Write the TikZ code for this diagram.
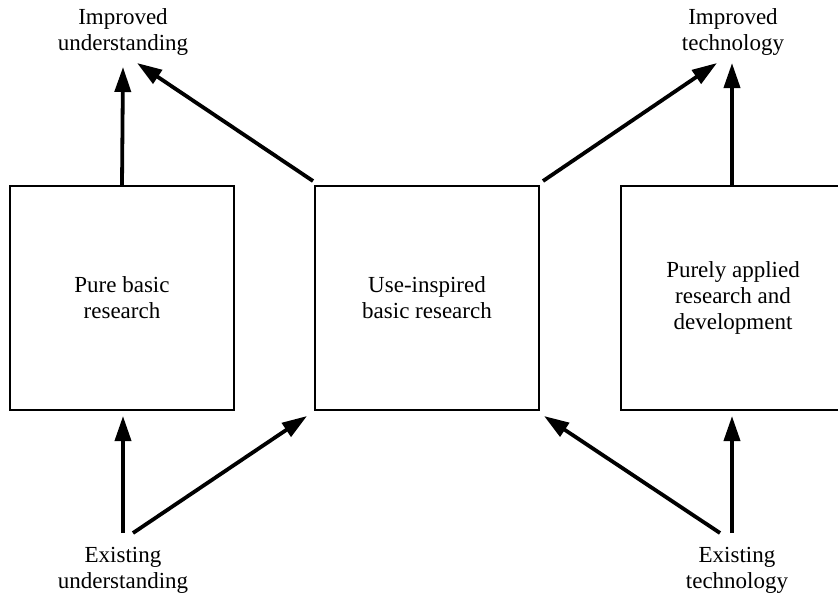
\documentclass[tikz,border=0pt]{standalone}
\usepackage{fontspec}
\setmainfont{Liberation Serif}
\usetikzlibrary{arrows.meta}
\begin{document}
\begin{tikzpicture}[x=1pt,y=-1pt,
  box/.style={draw, line width=2.2pt, minimum width=224pt, minimum height=224pt, align=center, inner sep=0pt, font=\fontsize{23}{26}\selectfont},
  lbl/.style={align=center, inner sep=0pt, font=\fontsize{23}{26}\selectfont},
  arr/.style={line width=3.8pt, -{Triangle[length=25pt,width=16pt]}}]
\useasboundingbox (0,0) rectangle (838,598);
\clip (0,0) rectangle (838,598);
\node[box] (pb) at (122,298) {Pure basic\\research};
\node[box] (ub) at (427,298) {Use-inspired\\basic research};
\node[box] (pa) at (733,298) {Purely applied\\research and\\development};
\node[lbl] (iu) at (123,32) {Improved\\understanding};
\node[lbl] (it) at (733,32) {Improved\\technology};
\node[lbl] (eu) at (123,570) {Existing\\understanding};
\node[lbl] (et) at (737,570) {Existing\\technology};
% coordinates
\coordinate (iuA) at (123,67);
\coordinate (iuB) at (137,63);
\coordinate (itA) at (717,63);
\coordinate (itB) at (732,63);
\coordinate (ubTL) at (313,181);
\coordinate (ubTR) at (543,181);
\coordinate (euA) at (123,533);
\coordinate (euB) at (133,533);
\coordinate (etA) at (720,533);
\coordinate (etB) at (732,533);
\coordinate (pbB) at (123,416);
\coordinate (ubBL) at (307,416);
\coordinate (ubBR) at (544,416);
\coordinate (paB) at (732,416);
\coordinate (paT) at (732,187);
\draw[arr] (pb.north) -- (iuA);
\draw[arr] (ubTL) -- (iuB);
\draw[arr] (ubTR) -- (itA);
\draw[arr] (paT) -- (itB);
\draw[arr] (euA) -- (pbB);
\draw[arr] (euB) -- (ubBL);
\draw[arr] (etA) -- (ubBR);
\draw[arr] (etB) -- (paB);
\end{tikzpicture}
\end{document}
